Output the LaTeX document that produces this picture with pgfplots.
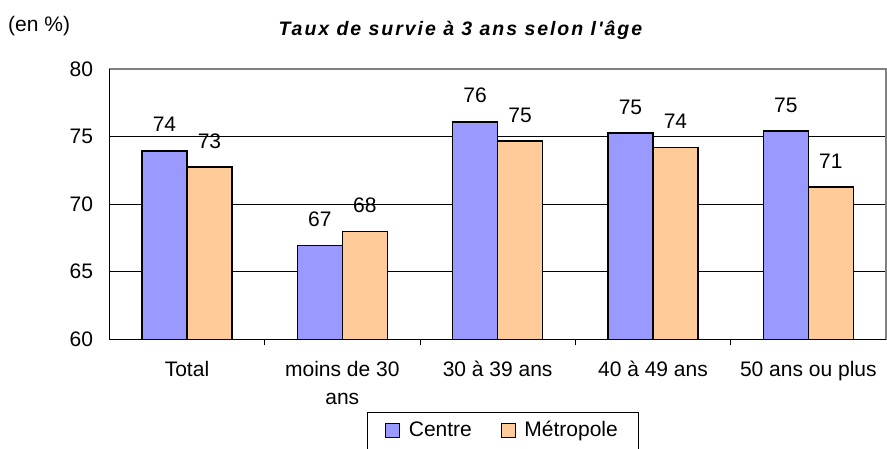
\documentclass[border=0pt]{standalone}
\usepackage{pgfplots}
\pgfplotsset{compat=1.18}
\usepackage{fontspec}
\setmainfont{Liberation Sans}
\newfontfamily\titlefont[LetterSpace=10]{Liberation Sans}
\definecolor{centre}{HTML}{9999FF}
\definecolor{metro}{HTML}{FFCC99}
\begin{document}
\fontsize{21}{28}\selectfont
\begin{tikzpicture}
\useasboundingbox (0,0) rectangle (887pt,448pt);
\begin{axis}[
    at={(109.3pt,108.7pt)}, anchor=south west,
    scale only axis, width=776.7pt, height=270.3pt,
    clip=false,
    ymin=60, ymax=80, ytick={60,65,...,80},
    xmin=-0.5, xmax=4.5,
    xtick={0,...,4},
    xticklabels={Total, {moins de 30\\ans}, 30 à 39 ans, 40 à 49 ans, 50 ans ou plus},
    xticklabel style={align=center, anchor=north, inner sep=0pt, yshift=-22pt,
        font=\fontsize{21}{28}\selectfont},
    yticklabel style={anchor=east, inner sep=0pt, xshift=-16pt,
        font=\fontsize{21}{24}\selectfont},
    /pgf/number format/assume math mode=true,
    minor xtick={0.5,1.5,2.5,3.5},
    major tick length=0pt,
    minor tick length=6pt,
    tick align=inside,
    xtick pos=bottom, ytick pos=left,
    tick style={black, line width=0.8pt},
    ymajorgrids, major grid style={black, line width=0.8pt},
    axis line style={gray, line width=1.2pt},
    ybar, bar width=45pt,
    title={\titlefont\bfseries\itshape Taux de survie à 3 ans selon l'âge},
    every axis title shift=0pt,
    title style={at={(0.452,1.1417)}, anchor=center, inner sep=0pt,
        font=\fontsize{19.5}{22}\selectfont},
    legend style={at={(0.507,-0.268)}, anchor=north, legend columns=2,
        draw=black, line width=1pt, inner xsep=18pt, inner ysep=6pt,
        font=\fontsize{21}{24}\selectfont,
        nodes={inner sep=3pt, text height=15pt, text depth=4pt},
        /tikz/every even column/.append style={column sep=26pt}},
    every node near coord/.append style={anchor=center, yshift=26pt,
        font=\fontsize{21}{24}\selectfont, text=black},
]
% Centre
\addplot[ybar, bar shift=-22.5pt, fill=centre, draw=black, line width=1.6pt,
    nodes near coords, point meta=explicit symbolic,
    legend image code/.code={\draw[fill=centre, draw=black, line width=1pt] (0pt,-7pt) rectangle (14pt,7pt);
        \path[draw=none, fill=none] (14pt,0pt) -- (20pt,0pt);}]
    coordinates {(0,73.95)[74] (1,66.95)[67] (2,76.1)[76] (3,75.25)[75] (4,75.4)[75]};
\addlegendentry{Centre}
% Metropole
\addplot[ybar, bar shift=22.5pt, fill=metro, draw=black, line width=1.6pt,
    nodes near coords, point meta=explicit symbolic,
    legend image code/.code={\draw[fill=metro, draw=black, line width=1pt] (0pt,-7pt) rectangle (14pt,7pt);
        \path[draw=none, fill=none] (14pt,0pt) -- (20pt,0pt);}]
    coordinates {(0,72.75)[73] (1,67.97)[68] (2,74.67)[75] (3,74.2)[74] (4,71.26)[71]};
\addlegendentry{Métropole}
\draw[black, line width=1.5pt] (rel axis cs:0,1) -- (rel axis cs:0,0) -- (rel axis cs:1,0);
\node[anchor=west, inner sep=0pt] at (rel axis cs:-0.1304,1.160) {(en \%)};
\end{axis}
\end{tikzpicture}
\end{document}
